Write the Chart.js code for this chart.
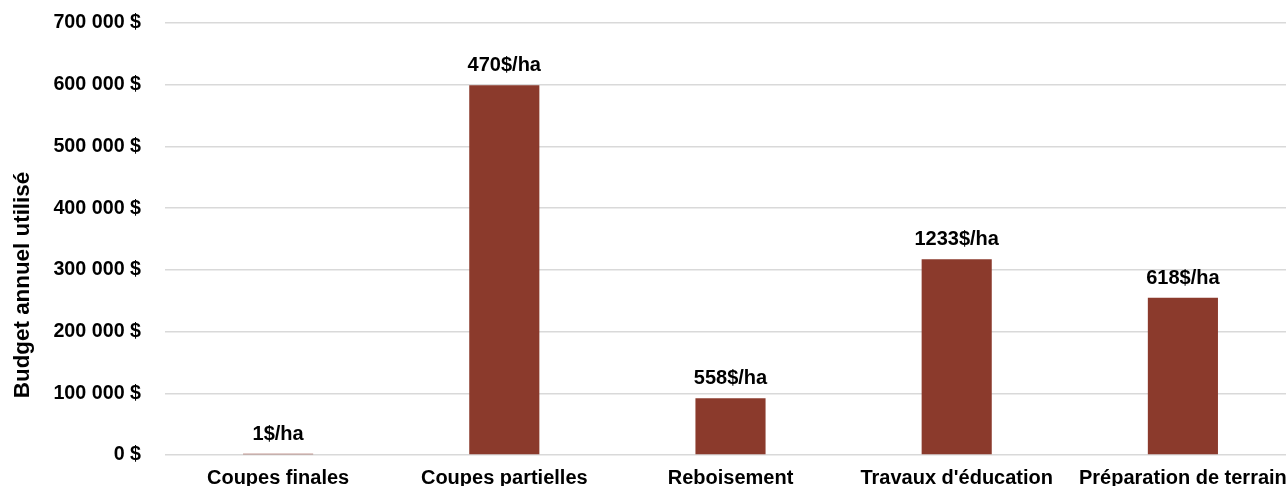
<!DOCTYPE html>
<html>
<head>
<meta charset="utf-8">
<script src="https://cdn.jsdelivr.net/npm/chart.js@4"></script>
<style>
  html, body { margin: 0; padding: 0; background: #fff; overflow: hidden; }
  canvas { display: block; }
</style>
</head>
<body>
<canvas id="barChart" width="1300" height="486"></canvas>
<script>
// categories, budget values and per-hectare labels
const categories = ["Coupes finales", "Coupes partielles", "Reboisement", "Travaux d'éducation", "Préparation de terrain"]
const budget = [2000, 599000, 92000, 317000, 255000]
const perHa = ["1$/ha", "470$/ha", "558$/ha", "1233$/ha", "618$/ha"]
const yTicks = [0, 100000, 200000, 300000, 400000, 500000, 600000, 700000]

const barColor = "#8B3A2C"
const fontName = "'Liberation Sans', Arial, sans-serif"

function money(v) {
  return String(v).replace(/\B(?=(\d{3})+(?!\d))/g, " ") + " $"
}

// draws the $/ha text above each bar
const barLabels = {
  id: "barLabels",
  afterDatasetsDraw(chart) {
    const ctx = chart.ctx
    const meta = chart.getDatasetMeta(0)
    ctx.save()
    ctx.font = "bold 20px " + fontName
    ctx.fillStyle = "#000"
    ctx.textAlign = "center"
    ctx.textBaseline = "alphabetic"
    meta.data.forEach((bar, i) => {
      ctx.fillText(perHa[i], bar.x, bar.y - 14)
    })
    ctx.restore()
  }
}

// y axis title, placed like the original (lower than the plot centre)
const yTitle = {
  id: "yTitle",
  afterDraw(chart) {
    const ctx = chart.ctx
    ctx.save()
    ctx.translate(22.5, 285)
    ctx.rotate(-Math.PI / 2)
    ctx.font = "bold 22.4px " + fontName
    ctx.fillStyle = "#000"
    ctx.textAlign = "center"
    ctx.textBaseline = "middle"
    ctx.fillText("Budget annuel utilisé", 0, 0)
    ctx.restore()
  }
}

const ctx = document.getElementById("barChart").getContext("2d")
new Chart(ctx, {
  type: "bar",
  data: {
    labels: categories,
    datasets: [{
      data: budget,
      backgroundColor: barColor,
      borderWidth: 0,
      categoryPercentage: 1,
      barPercentage: 0.31
    }]
  },
  options: {
    responsive: false,
    animation: false,
    layout: { padding: { top: 23, right: 4, left: 0, bottom: 0 } },
    plugins: { legend: { display: false }, tooltip: { enabled: false } },
    scales: {
      x: {
        afterFit(scale) { scale.height = 31 },
        grid: { display: false },
        border: { display: false },
        ticks: {
          color: "#000",
          font: { family: fontName, size: 20, weight: "bold" },
          padding: 3,
          maxRotation: 0,
          autoSkip: false
        }
      },
      y: {
        min: 0,
        max: 700000,
        afterFit(scale) {
          scale.width = 165
          scale.paddingTop = 0
          scale.paddingBottom = 0
        },
        afterBuildTicks(scale) { scale.ticks = yTicks.map(v => ({ value: v })) },
        grid: { color: "#d9d9d9", lineWidth: 1.5, drawTicks: false },
        border: { display: false },
        ticks: {
          color: "#000",
          font: { family: fontName, size: 19.7, weight: "bold" },
          padding: 24,
          callback: v => money(v)
        }
      }
    }
  },
  plugins: [barLabels, yTitle]
})
</script>
</body>
</html>
